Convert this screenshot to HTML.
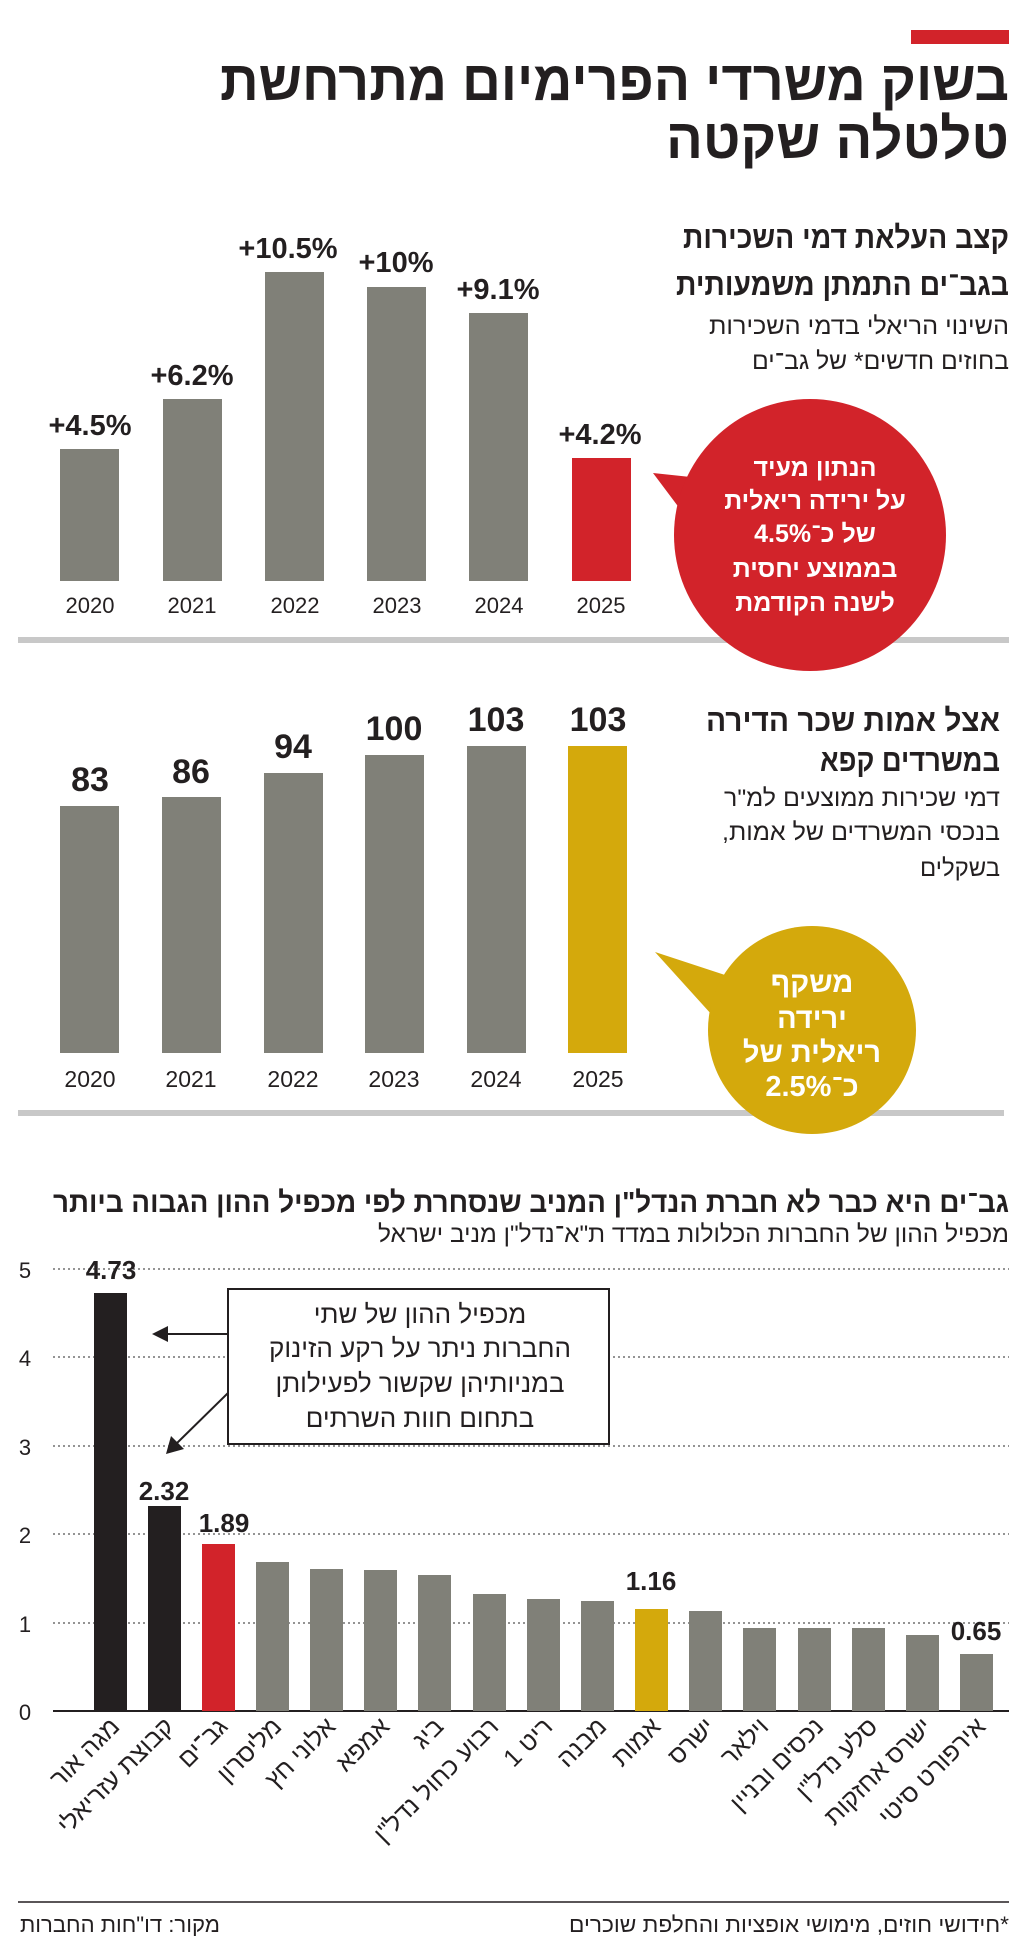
<!DOCTYPE html>
<html><head><meta charset="utf-8"><style>
html,body{margin:0;padding:0;background:#fff}
svg{display:block}
text{font-family:"Liberation Sans Narrow","Liberation Sans","DejaVu Sans",sans-serif}
.b{font-weight:bold}
.dv{font-family:"DejaVu Sans","Liberation Sans",sans-serif}
</style></head><body>
<svg width="1024" height="1939" viewBox="0 0 1024 1939" xmlns="http://www.w3.org/2000/svg">
<rect x="0" y="0" width="1024" height="1939" fill="#fff"/>
<rect x="911" y="30" width="98" height="14" fill="#d2232a"/>
<text x="1009" y="100" text-anchor="end" class="b" font-size="56" fill="#231f20" textLength="789" lengthAdjust="spacingAndGlyphs">בשוק משרדי הפרימיום מתרחשת</text>
<text x="1009" y="158" text-anchor="end" class="b" font-size="56" fill="#231f20" textLength="343" lengthAdjust="spacingAndGlyphs">טלטלה שקטה</text>

<!-- Chart 1 -->
<text x="1009" y="248" text-anchor="end" class="b" font-size="31" fill="#231f20" textLength="326" lengthAdjust="spacingAndGlyphs">קצב העלאת דמי השכירות</text>
<text x="1009" y="295" text-anchor="end" class="b" font-size="31" fill="#231f20" textLength="333" lengthAdjust="spacingAndGlyphs">בגב־ים התמתן משמעותית</text>
<text x="1009" y="334" text-anchor="end" font-size="24" fill="#231f20" textLength="300" lengthAdjust="spacingAndGlyphs">השינוי הריאלי בדמי השכירות</text>
<text x="1009" y="369" text-anchor="end" font-size="24" fill="#231f20" textLength="257" lengthAdjust="spacingAndGlyphs">בחוזים חדשים* של גב־ים</text>
<g fill="#808078">
<rect x="60" y="449" width="59" height="132"/>
<rect x="163" y="399" width="59" height="182"/>
<rect x="265" y="272" width="59" height="309"/>
<rect x="367" y="287" width="59" height="294"/>
<rect x="469" y="313" width="59" height="268"/>
</g>
<rect x="572" y="458" width="59" height="123" fill="#d2232a"/>
<g class="b" font-size="29" fill="#231f20" text-anchor="middle">
<text x="90" y="435">+4.5%</text>
<text x="192" y="385">+6.2%</text>
<text x="288" y="258">+10.5%</text>
<text x="396" y="272">+10%</text>
<text x="498" y="299">+9.1%</text>
<text x="600" y="444">+4.2%</text>
</g>
<g class="dv" font-size="22" fill="#231f20" text-anchor="middle">
<text x="90" y="613">2020</text><text x="192" y="613">2021</text><text x="295" y="613">2022</text><text x="397" y="613">2023</text><text x="499" y="613">2024</text><text x="601" y="613">2025</text>
</g>
<rect x="18" y="637" width="991" height="6" fill="#c8c8c8"/>
<polygon points="653,473 700,478 692,525" fill="#d2232a"/>
<circle cx="810" cy="535" r="136" fill="#d2232a"/>
<g class="b" font-size="25" fill="#fff" text-anchor="middle">
<text x="815" y="476">הנתון מעיד</text>
<text x="815" y="509">על ירידה ריאלית</text>
<text x="815" y="542">של כ־4.5%</text>
<text x="815" y="577">בממוצע יחסית</text>
<text x="815" y="611">לשנה הקודמת</text>
</g>

<!-- Chart 2 -->
<text x="1000" y="731" text-anchor="end" class="b" font-size="31" fill="#231f20" textLength="294" lengthAdjust="spacingAndGlyphs">אצל אמות שכר הדירה</text>
<text x="1000" y="771" text-anchor="end" class="b" font-size="31" fill="#231f20" textLength="180" lengthAdjust="spacingAndGlyphs">במשרדים קפא</text>
<text x="1000" y="806" text-anchor="end" font-size="24" fill="#231f20" textLength="276" lengthAdjust="spacingAndGlyphs">דמי שכירות ממוצעים למ"ר</text>
<text x="1000" y="840" text-anchor="end" font-size="24" fill="#231f20" textLength="278" lengthAdjust="spacingAndGlyphs">בנכסי המשרדים של אמות,&#x200F;</text>
<text x="1000" y="876" text-anchor="end" font-size="24" fill="#231f20" textLength="80" lengthAdjust="spacingAndGlyphs">בשקלים</text>
<g fill="#808078">
<rect x="60" y="806" width="59" height="247"/>
<rect x="162" y="797" width="59" height="256"/>
<rect x="264" y="773" width="59" height="280"/>
<rect x="365" y="755" width="59" height="298"/>
<rect x="467" y="746" width="59" height="307"/>
</g>
<rect x="568" y="746" width="59" height="307" fill="#d4a90c"/>
<g class="dv b" font-size="34" fill="#231f20" text-anchor="middle">
<text x="90" y="791">83</text><text x="191" y="783">86</text><text x="293" y="758">94</text><text x="394" y="740">100</text><text x="496" y="731">103</text><text x="598" y="731">103</text>
</g>
<g class="dv" font-size="23" fill="#231f20" text-anchor="middle">
<text x="90" y="1087">2020</text><text x="191" y="1087">2021</text><text x="293" y="1087">2022</text><text x="394" y="1087">2023</text><text x="496" y="1087">2024</text><text x="598" y="1087">2025</text>
</g>
<rect x="18" y="1110" width="986" height="6" fill="#c8c8c8"/>
<polygon points="655,952 725,975 712,1015" fill="#d4a90c"/>
<circle cx="812" cy="1030" r="104" fill="#d4a90c"/>
<g class="b" font-size="29" fill="#fff" text-anchor="middle">
<text x="812" y="992">משקף</text>
<text x="812" y="1028">ירידה</text>
<text x="812" y="1062">ריאלית של</text>
<text x="812" y="1096">כ־2.5%</text>
</g>

<!-- Chart 3 -->
<text x="1009" y="1212" text-anchor="end" class="b" font-size="29" fill="#231f20" textLength="956" lengthAdjust="spacingAndGlyphs">גב־ים היא כבר לא חברת הנדל"ן המניב שנסחרת לפי מכפיל ההון הגבוה ביותר</text>
<text x="1009" y="1242" text-anchor="end" font-size="24" fill="#231f20" textLength="631" lengthAdjust="spacingAndGlyphs">מכפיל ההון של החברות הכלולות במדד ת"א־נדל"ן מניב ישראל</text>
<g stroke="#555" stroke-width="1.3" stroke-dasharray="2,3">
<line x1="53" y1="1269" x2="1009" y2="1269"/>
<line x1="53" y1="1357" x2="1009" y2="1357"/>
<line x1="53" y1="1446" x2="1009" y2="1446"/>
<line x1="53" y1="1534" x2="1009" y2="1534"/>
<line x1="53" y1="1623" x2="1009" y2="1623"/>
</g>
<line x1="53" y1="1711" x2="1009" y2="1711" stroke="#231f20" stroke-width="2"/>
<g font-size="22" fill="#231f20" text-anchor="middle">
<text x="25" y="1278">5</text><text x="25" y="1366">4</text><text x="25" y="1455">3</text><text x="25" y="1543">2</text><text x="25" y="1632">1</text><text x="25" y="1720">0</text>
</g>
<g>
<rect x="94" y="1293" width="33" height="418" fill="#231f20"/>
<rect x="148" y="1506" width="33" height="205" fill="#231f20"/>
<rect x="202" y="1544" width="33" height="167" fill="#d2232a"/>
<rect x="256" y="1562" width="33" height="149" fill="#808078"/>
<rect x="310" y="1569" width="33" height="142" fill="#808078"/>
<rect x="364" y="1570" width="33" height="141" fill="#808078"/>
<rect x="418" y="1575" width="33" height="136" fill="#808078"/>
<rect x="473" y="1594" width="33" height="117" fill="#808078"/>
<rect x="527" y="1599" width="33" height="112" fill="#808078"/>
<rect x="581" y="1601" width="33" height="110" fill="#808078"/>
<rect x="635" y="1609" width="33" height="102" fill="#d4a90c"/>
<rect x="689" y="1611" width="33" height="100" fill="#808078"/>
<rect x="743" y="1628" width="33" height="83" fill="#808078"/>
<rect x="798" y="1628" width="33" height="83" fill="#808078"/>
<rect x="852" y="1628" width="33" height="83" fill="#808078"/>
<rect x="906" y="1635" width="33" height="76" fill="#808078"/>
<rect x="960" y="1654" width="33" height="57" fill="#808078"/>
</g>
<g class="b" font-size="26" fill="#231f20" text-anchor="middle">
<text x="111" y="1279">4.73</text><text x="164" y="1500">2.32</text><text x="224" y="1532">1.89</text><text x="651" y="1590">1.16</text><text x="976" y="1640">0.65</text>
</g>
<rect x="228" y="1289" width="381" height="155" fill="#fff" stroke="#231f20" stroke-width="2"/>
<g font-size="26" fill="#231f20" text-anchor="middle">
<text x="420" y="1323">מכפיל ההון של שתי</text>
<text x="420" y="1357">החברות ניתר על רקע הזינוק</text>
<text x="420" y="1392">במניותיהן שקשור לפעילותן</text>
<text x="420" y="1427">בתחום חוות השרתים</text>
</g>
<line x1="228" y1="1334" x2="165" y2="1334" stroke="#231f20" stroke-width="2"/>
<polygon points="152,1334 168,1326 168,1342" fill="#231f20"/>
<line x1="228" y1="1393" x2="175" y2="1445" stroke="#231f20" stroke-width="2"/>
<polygon points="166,1454 171,1436 184,1449" fill="#231f20"/>
<g font-size="25" fill="#231f20" text-anchor="end">
<text transform="translate(121,1728) rotate(-45)">מגה אור</text>
<text transform="translate(175,1728) rotate(-45)">קבוצת עזריאלי</text>
<text transform="translate(229,1728) rotate(-45)">גב־ים</text>
<text transform="translate(283,1728) rotate(-45)">מליסרון</text>
<text transform="translate(337,1728) rotate(-45)">אלוני חץ</text>
<text transform="translate(391,1728) rotate(-45)">אמפא</text>
<text transform="translate(445,1728) rotate(-45)">ביג</text>
<text transform="translate(500,1728) rotate(-45)">רבוע כחול נדל"ן</text>
<text transform="translate(554,1728) rotate(-45)">ריט 1</text>
<text transform="translate(608,1728) rotate(-45)">מבנה</text>
<text transform="translate(662,1728) rotate(-45)">אמות</text>
<text transform="translate(716,1728) rotate(-45)">ישרס</text>
<text transform="translate(770,1728) rotate(-45)">וילאר</text>
<text transform="translate(825,1728) rotate(-45)">נכסים ובניין</text>
<text transform="translate(879,1728) rotate(-45)">סלע נדל"ן</text>
<text transform="translate(933,1728) rotate(-45)">ישרס אחזקות</text>
<text transform="translate(987,1728) rotate(-45)">אירפורט סיטי</text>
</g>
<line x1="18" y1="1902" x2="1009" y2="1902" stroke="#231f20" stroke-width="1.5"/>
<text x="1009" y="1932" text-anchor="end" font-size="22" fill="#231f20" textLength="440" lengthAdjust="spacingAndGlyphs">&#x200F;*חידושי חוזים, מימושי אופציות והחלפת שוכרים</text>
<text x="220" y="1932" text-anchor="end" font-size="22" fill="#231f20" textLength="200" lengthAdjust="spacingAndGlyphs">מקור: דו"חות החברות</text>
</svg>
</body></html>
